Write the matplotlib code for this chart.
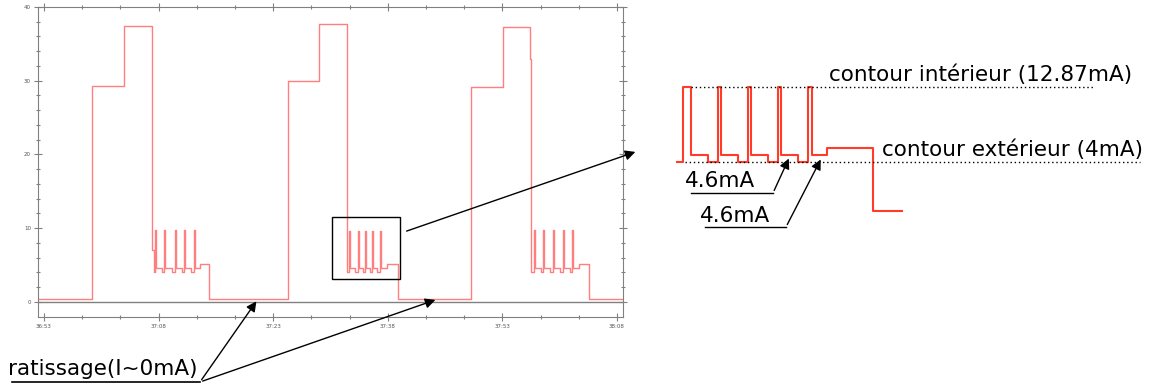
import matplotlib.pyplot as plt
from matplotlib.patches import Rectangle

# Main recording: time (s after 36:53) and current, step trace
t_main = [-0.8, 6.28, 10.51, 14.2, 14.35, 14.53, 14.66, 15.4, 15.71, 15.84, 16.7,
          17.15, 17.28, 18.0, 18.32, 18.45, 19.2, 19.63, 19.76, 20.48, 21.66,
          31.98, 36.03, 39.62, 39.96, 40.09, 40.75, 41.06, 41.19, 41.7, 42.02,
          42.15, 42.65, 42.97, 43.10, 43.65, 43.98, 44.11, 44.9, 46.3,
          55.85, 60.04, 63.68, 63.8, 64.14, 64.27, 65.0, 65.35, 65.48, 66.25,
          66.58, 66.71, 67.5, 67.89, 68.02, 68.8, 69.15, 69.28, 70.07, 71.37, 75.7]
v_main = [0.4, 29.3, 37.4, 7.0, 4.1, 9.7, 4.6, 4.1, 9.7, 4.6, 4.1,
          9.7, 4.6, 4.1, 9.7, 4.6, 4.1, 9.7, 4.6, 5.1, 0.4,
          30.0, 37.7, 4.1, 9.6, 4.6, 4.1, 9.6, 4.6, 4.1, 9.6,
          4.6, 4.1, 9.6, 4.6, 4.1, 9.6, 4.6, 5.1, 0.4,
          29.2, 37.3, 32.9, 4.1, 9.7, 4.6, 4.1, 9.7, 4.6, 4.1,
          9.7, 4.6, 4.1, 9.7, 4.6, 4.1, 9.7, 4.6, 5.1, 0.4, 0.4]

x_ticks = [0, 15, 30, 45, 60, 75]
x_labels = ["36:53", "37:08", "37:23", "37:38", "37:53", "38:08"]
y_ticks = [0, 10, 20, 30, 40]

# Zoomed burst (mA)
t_zoom = [0, 0.21, 0.53, 1.17, 1.55, 1.68, 2.33, 2.71, 2.84, 3.48, 3.87, 3.99,
          4.63, 5.02, 5.17, 5.75, 7.54, 8.63]
v_zoom = [4.0, 12.87, 4.8, 4.0, 12.87, 4.8, 4.0, 12.87, 4.8, 4.0, 12.87, 4.8,
          4.0, 12.87, 4.8, 5.6, -1.83, -1.83]
inner_level = 12.87
outer_level = 4.0

W, H = 1150, 387
fig = plt.figure(figsize=(W / 100, H / 100), dpi=100)

# main chart
ax = fig.add_axes([38 / W, 1 - 317 / H, 584.7 / W, 310 / H])
ax.plot(t_main, v_main, drawstyle='steps-post', color='#ff7f7f', lw=1.0)
ax.axhline(0, color='#808080', lw=1)
ax.set_xlim(-0.785, 75.75)
ax.set_ylim(-2.05, 40)
ax.set_xticks(x_ticks)
ax.set_xticklabels(x_labels)
ax.set_xticks([t for t in range(0, 76, 5)], minor=True)
ax.set_yticks(y_ticks)
ax.set_yticks(range(0, 41, 2), minor=True)
for s in ax.spines.values():
    s.set_color('#808080')
ax.tick_params(which='both', direction='inout', colors='#808080', labelcolor='#555555',
               labelsize=4, top=True, right=True, width=0.8)
ax.tick_params(which='major', length=6, pad=2)
ax.tick_params(which='minor', length=3)

# zoomed burst
ax_in = fig.add_axes([677.3 / W, 1 - 211 / H, 224.4 / W, 124.3 / H])
ax_in.plot(t_zoom, v_zoom, drawstyle='steps-post', color='#ff3b2a', lw=1.5, clip_on=False)
ax_in.plot([0.53, 16.07], [inner_level, inner_level], color='black', lw=1,
           ls=(0, (1, 2)), clip_on=False)
ax_in.plot([0.3, 17.8], [outer_level, outer_level], color='black', lw=1,
           ls=(0, (1, 2)), clip_on=False)
ax_in.set_xlim(0, 8.63)
ax_in.set_ylim(-1.83, 12.87)
ax_in.axis('off')

# annotations in pixel space
ov = fig.add_axes([0, 0, 1, 1], zorder=10)
ov.set_xlim(0, W)
ov.set_ylim(H, 0)
ov.axis('off')
ov.patch.set_visible(False)

ov.add_patch(Rectangle((332, 217), 68, 62, fill=False, ec='black', lw=1))
arrow = dict(arrowstyle='-|>', color='black', lw=1, mutation_scale=15)
ov.annotate('', xy=(638, 151), xytext=(404, 232), arrowprops=arrow)

fs = 15.5
ov.text(829, 75, 'contour intérieur (12.87mA)', fontsize=fs, va='center')
ov.text(882, 150, 'contour extérieur (4mA)', fontsize=fs, va='center')

ov.text(685, 181, '4.6mA', fontsize=fs, va='center')
ov.plot([691, 773], [193, 193], color='black', lw=1)
ov.annotate('', xy=(790, 156), xytext=(773, 193), arrowprops=arrow)

ov.text(700, 216, '4.6mA', fontsize=fs, va='center')
ov.plot([705, 786], [227, 227], color='black', lw=1)
ov.annotate('', xy=(822, 157), xytext=(786, 227), arrowprops=arrow)

ov.text(8, 369, 'ratissage(I~0mA)', fontsize=fs, va='center')
ov.plot([12, 200], [382, 382], color='black', lw=1.2)
ov.annotate('', xy=(258, 299), xytext=(200, 382), arrowprops=arrow)
ov.annotate('', xy=(438, 299), xytext=(200, 382), arrowprops=arrow)

fig.savefig('out.png', dpi=100)
